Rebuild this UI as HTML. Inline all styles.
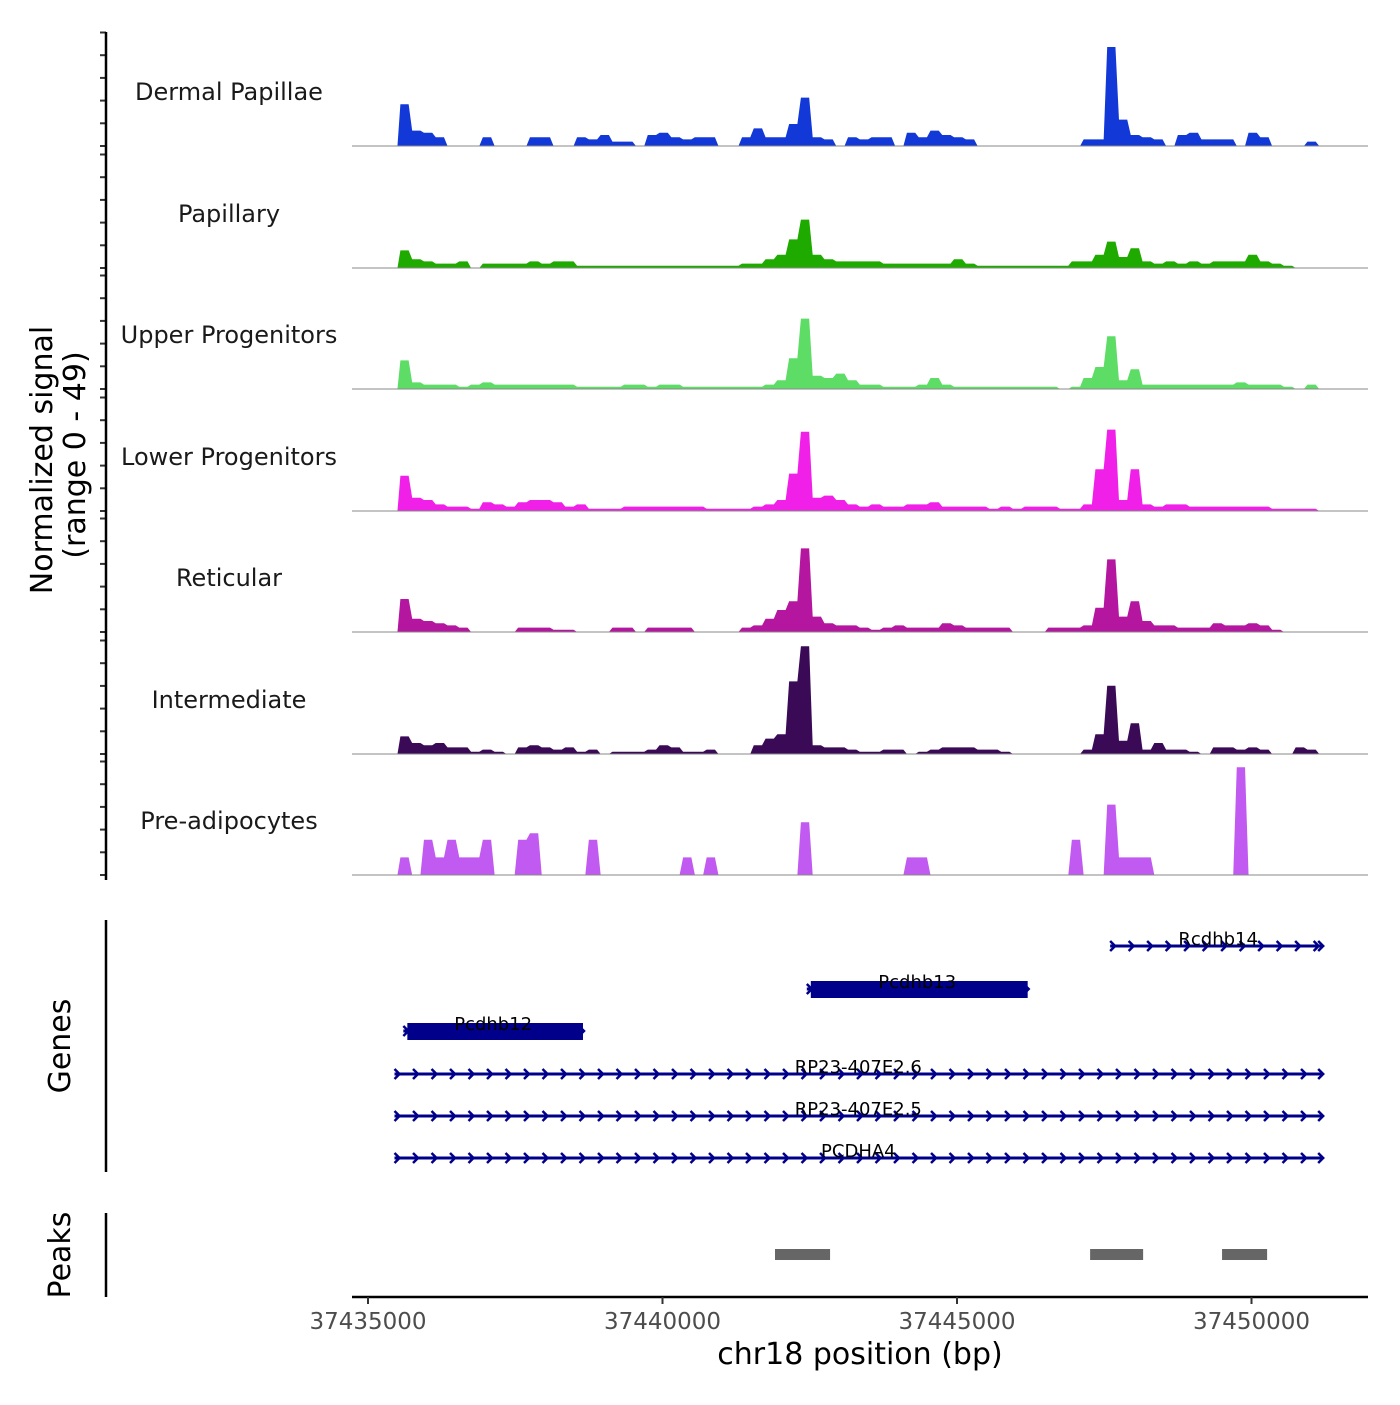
<!DOCTYPE html>
<html><head><meta charset="utf-8"><style>
html,body{margin:0;padding:0;background:#fff}
svg text{font-family:"DejaVu Sans","Liberation Sans",sans-serif}
</style></head><body>
<svg id="chart" width="1400" height="1400" viewBox="0 0 1400 1400" xmlns="http://www.w3.org/2000/svg">
<rect width="1400" height="1400" fill="#fff"/>
<g id="tracks"></g>
<g id="genes"></g>
<g id="peaks"></g>
<g id="axes"></g>
<text transform="translate(52,460) rotate(-90)" text-anchor="middle" font-size="30">Normalized signal</text>
<text transform="translate(85,455) rotate(-90)" text-anchor="middle" font-size="30">(range 0 - 49)</text>
<text transform="translate(70,1046) rotate(-90)" text-anchor="middle" font-size="30">Genes</text>
<text transform="translate(70,1255) rotate(-90)" text-anchor="middle" font-size="30">Peaks</text>
<text x="860" y="1364" text-anchor="middle" font-size="30">chr18 position (bp)</text>
</svg>
<script>
const binStart = 37435500;
const binSize = 200;
const trackNames = ["Dermal Papillae","Papillary","Upper Progenitors","Lower Progenitors","Reticular","Intermediate","Pre-adipocytes"];
const trackColors = ["#1238d8","#1faa00","#5ddd66","#f020e8","#b4169f","#3b0a57","#c05af0"];
const dermal = [19,7,6,4,0,0,0,4,0,0,0,4,4,0,0,4,3,5,2,2,0,5,6,4,3,4,4,0,0,4,8,4,4,10,22,4,3,0,4,3,4,4,0,6,4,7,5,4,3,0,0,0,0,0,0,0,0,0,3,3,45,12,5,4,3,0,5,6,3,3,3,0,6,4,0,0,0,2,0];
const papillary = [8,4,3,2,2,3,0,2,2,2,2,3,2,3,3,1,1,1,1,1,1,1,1,1,1,1,1,1,1,2,2,4,6,13,22,6,4,3,3,3,3,2,2,2,2,2,2,4,2,1,1,1,1,1,1,1,1,3,3,6,12,5,9,3,2,3,2,3,2,3,3,3,6,3,2,1,0,0,0];
const upper = [13,3,2,2,2,1,2,3,2,2,2,2,2,2,2,1,1,1,1,2,2,1,2,2,1,1,1,1,1,1,1,2,4,14,32,6,5,7,4,2,2,1,1,1,2,5,2,1,1,1,1,1,1,1,1,1,0,1,5,10,24,4,9,2,2,2,2,2,2,2,2,3,2,2,2,1,0,2,0];
const lower = [16,6,5,3,2,2,1,4,3,2,4,5,5,4,2,3,1,1,1,2,2,2,2,2,2,2,1,1,1,1,2,3,5,17,36,6,7,5,3,2,3,2,2,3,3,4,2,2,2,2,1,2,1,2,2,2,1,1,3,19,37,5,19,3,2,3,3,2,2,2,2,2,2,2,1,1,1,1,0];
const reticular = [15,6,5,4,3,2,0,0,0,0,2,2,2,1,1,0,0,0,2,2,0,2,2,2,2,0,0,0,0,2,3,6,10,14,38,7,4,3,3,2,1,2,3,2,2,2,4,3,2,2,2,2,0,0,0,2,2,2,3,11,33,7,14,5,3,3,2,2,2,4,3,3,4,3,1,0,0,0,0];
const intermediate = [8,5,4,5,3,3,1,2,1,0,3,4,3,2,3,1,2,0,1,1,1,2,4,3,1,1,2,0,0,0,4,7,9,33,49,4,3,3,2,1,1,2,2,0,1,2,3,3,3,2,2,1,0,0,0,0,0,0,2,9,31,6,14,2,5,2,2,1,0,3,3,2,3,2,0,0,3,2,0];
const preadipo = [8,0,16,8,16,8,8,16,0,0,16,19,0,0,0,0,16,0,0,0,0,0,0,0,8,0,8,0,0,0,0,0,0,0,24,0,0,0,0,0,0,0,0,8,8,0,0,0,0,0,0,0,0,0,0,0,0,16,0,0,32,8,8,8,0,0,0,0,0,0,0,49,0,0,0,0,0,0,0];
const trackValues = [dermal,papillary,upper,lower,reticular,intermediate,preadipo];
const xTicks = [37435000,37440000,37445000,37450000];
const geneNames = ["Rcdhb14","Pcdhb13","Pcdhb12","RP23-407E2.6","RP23-407E2.5","PCDHA4"];
const geneStarts = [37447600,37442450,37435600,37435450,37435450,37435450];
const geneEnds = [37451200,37446200,37438650,37451200,37451200,37451200];
const geneExon = [false,true,true,false,false,false];
const peakStarts = [37441910,37447260,37449500];
const peakEnds = [37442845,37448160,37450265];

const NS="http://www.w3.org/2000/svg";
function xs(bp){return 368+(bp-37435000)*294.5/5000;}
const unitPx = 2.2;
const baselines=[146,268,389,511,632,754,875];
function mk(tag,attrs,parent){const e=document.createElementNS(NS,tag);for(const k in attrs)e.setAttribute(k,attrs[k]);parent.appendChild(e);return e;}
const tg=document.getElementById('tracks');
const ax=document.getElementById('axes');
trackValues.forEach((vals,t)=>{
  const b=baselines[t];
  const g=mk('g',{},tg);
  
  
  let pts=[];
  pts.push(xs(binStart)+','+b);
  vals.forEach((v,i)=>{
    const x0=xs(binStart+i*binSize+50), x1=xs(binStart+(i+1)*binSize-10);
    const y=b-v*unitPx;
    pts.push(x0+','+(v>0?y:b));pts.push(x1+','+(v>0?y:b));
  });
  pts.push(xs(binStart+vals.length*binSize)+','+b);
  const p=mk('polygon',{points:pts.join(' '),fill:trackColors[t]},g);
  
  
  const bl=mk('line',{x1:352,x2:1368,y1:b,y2:b,stroke:'#888','stroke-width':1},g);
  
  
  const lb=mk('text',{x:229,y:b-46,'text-anchor':'middle','font-size':24,fill:'#1a1a1a'},g);
  lb.textContent=trackNames[t];
  
  
  for(let k=0;k<=5;k++){
    const y=b-k*22.7;
    const tk=mk('line',{x1:100,x2:106,y1:y,y2:y,stroke:'#333','stroke-width':2},ax);
    
    
  }
});
let l=mk('line',{x1:106,x2:106,y1:32,y2:880,stroke:'#000','stroke-width':2.5},ax);

l=mk('line',{x1:106,x2:106,y1:920,y2:1172,stroke:'#000','stroke-width':2.5},ax);

l=mk('line',{x1:106,x2:106,y1:1213,y2:1297,stroke:'#000','stroke-width':2.5},ax);

l=mk('line',{x1:352,x2:1368,y1:1297,y2:1297,stroke:'#000','stroke-width':2.5},ax);

xTicks.forEach(v=>{
  const x=xs(v);
  const t=mk('line',{x1:x,x2:x,y1:1297,y2:1304,stroke:'#333','stroke-width':2},ax);
  
  const tx=mk('text',{x:x,y:1329,'text-anchor':'middle','font-size':23,fill:'#4d4d4d'},ax);
  tx.textContent=String(v);
  
});
const gg=document.getElementById('genes');
const geneY=[946,989,1031,1074,1116,1158];
geneNames.forEach((n,i)=>{
  const y=geneY[i],x0=xs(geneStarts[i]),x1=xs(geneEnds[i]);
  const g=mk('g',{},gg);
  
  
  mk('line',{x1:x0,x2:x1,y1:y,y2:y,stroke:'#00008b','stroke-width':3},g);
  let d='';
  for(let x=x0+4;x<=x1;x+=18.5){d+=`M${x-4},${y-5}L${x+1},${y}L${x-4},${y+5}`;}
  d+=`M${x1-4},${y-5}L${x1+1},${y}L${x1-4},${y+5}`;
  mk('path',{d:d,stroke:'#00008b','stroke-width':2.5,fill:'none'},g);
  if(geneExon[i]) mk('rect',{x:x0+4,y:y-8,width:x1-x0-4,height:17,fill:'#00008b'},g);
  const tx=mk('text',{x:(x0+x1)/2+(i==0?2:0),y:y-1,'text-anchor':'middle','font-size':18,fill:'#000'},g);
  tx.textContent=n;
});
const pg=document.getElementById('peaks');
peakStarts.forEach((s,i)=>{
  const r=mk('rect',{x:xs(s),y:1249,width:xs(peakEnds[i])-xs(s),height:11,fill:'#666'},pg);
  
  
});
</script>
</body></html>
